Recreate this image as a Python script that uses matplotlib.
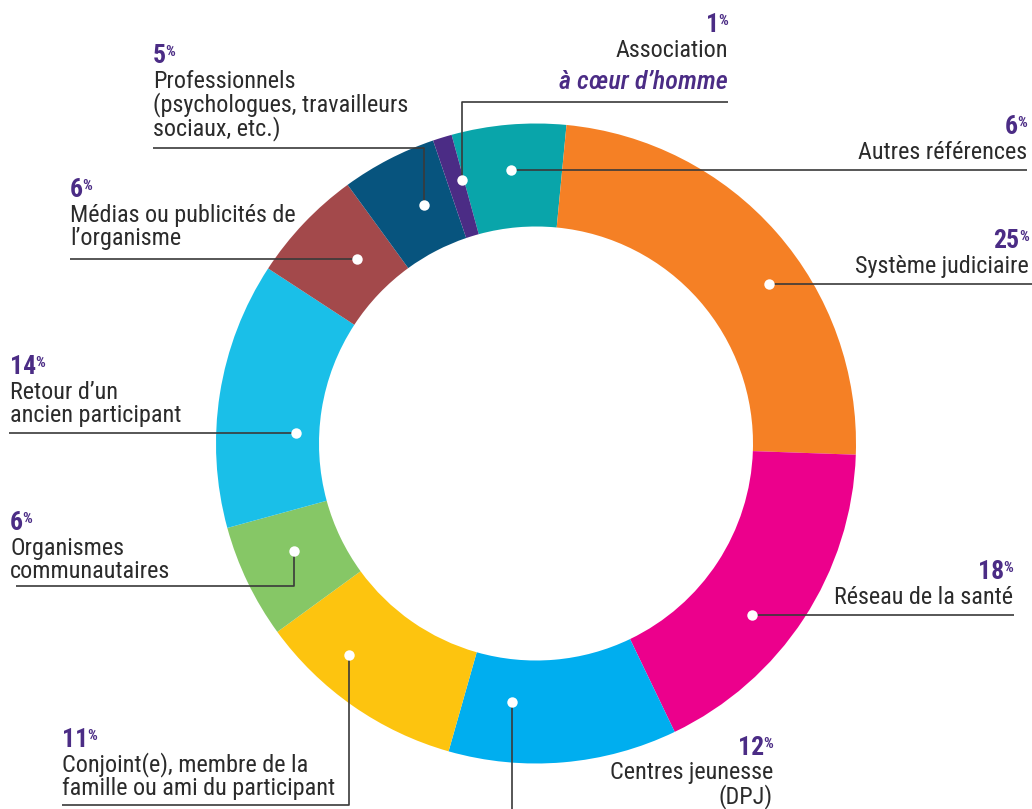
import matplotlib
matplotlib.use('Agg')
import numpy as np
import matplotlib.pyplot as plt
from matplotlib import font_manager
from matplotlib.font_manager import FontProperties

# --- Données (ordre horaire à partir de "Autres références") ---
categories = [
    "Autres références",
    "Système judiciaire",
    "Réseau de la santé",
    "Centres jeunesse (DPJ)",
    "Conjoint(e), membre de la famille ou ami du participant",
    "Organismes communautaires",
    "Retour d'un ancien participant",
    "Médias ou publicités de l'organisme",
    "Professionnels (psychologues, travailleurs sociaux, etc.)",
    "Association à cœur d'homme",
]
pourcentages = [6, 25, 18, 12, 11, 6, 14, 6, 5, 1]
couleurs = ["#09a5aa", "#f58025", "#ec008c", "#00aeef", "#fdc40f",
            "#86c766", "#1abfe8", "#a3494b", "#07547e", "#4b2c85"]
lignes_labels = [
    ["Autres références"],
    ["Système judiciaire"],
    ["Réseau de la santé"],
    ["Centres jeunesse", "(DPJ)"],
    ["Conjoint(e), membre de la", "famille ou ami du participant"],
    ["Organismes", "communautaires"],
    ["Retour d\u2019un", "ancien participant"],
    ["Médias ou publicités de", "l\u2019organisme"],
    ["Professionnels", "(psychologues, travailleurs", "sociaux, etc.)"],
    ["Association", "à cœur d\u2019homme"],
]

# --- Mise en page (pixels, origine en haut à gauche) ---
W, H = 1032, 809
CX, CY = 536, 443.5
R_OUT, R_IN = 320, 217
# position du point sur la tranche: fraction d'angle, rayon
points = [(0.485, 275), (0.579, 282), (0.585, 276), (0.746, 260), (0.673, 282),
          (0.584, 265), (0.367, 240), (0.612, 257), (0.631, 264), (0.887, 274)]
# tracé du trait: ('h', x) / ('v', y) / ('vh', y, x)
traits = [('h', 1027), ('h', 1032), ('h', 1014), ('v', 809), ('vh', 805, 62),
          ('vh', 586, 16), ('h', 9), ('h', 70), ('vh', 148, 153), ('vh', 102, 728)]
# x du texte, alignement, ligne de base du pourcentage
textes = [(1027, 'right', 134), (1029, 'right', 248), (1013, 'right', 579),
          (773, 'right', 755), (62, 'left', 747), (10, 'left', 530),
          (10, 'left', 374), (70, 'left', 197), (153, 'left', 63), (728, 'right', 32)]


def poids(f):
    w = f.weight
    if isinstance(w, str):
        w = font_manager.weight_dict.get(w, 400)
    return w


def etroit(f):
    st = f.stretch
    if isinstance(st, str):
        return 'condensed' in st and 'extra' not in st and 'ultra' not in st
    return 500 > st >= 300


def police_etroite(italique=False, wmin=400, wmax=400, cible=400):
    ordre = ['Liberation Sans Narrow', 'Roboto Condensed', 'Noto Sans',
             'Open Sans', 'DejaVu Sans']
    cands = []
    for f in font_manager.fontManager.ttflist:
        if not (etroit(f) or 'Narrow' in f.name or 'Condensed' in f.name):
            continue
        if (f.style != 'normal') != italique:
            continue
        w = poids(f)
        if not (wmin <= w <= wmax):
            continue
        rang = ordre.index(f.name) if f.name in ordre else len(ordre)
        cands.append((rang, abs(w - cible), f.fname))
    if cands:
        cands.sort()
        return cands[0][2]
    return None


f_reg = police_etroite()
f_ita = police_etroite(italique=True, wmin=500, wmax=700, cible=500) or police_etroite(italique=True)
f_num = police_etroite(wmin=700, wmax=900, cible=900)
f_pc = police_etroite(wmin=600, wmax=800, cible=700) or f_num
fp_txt = FontProperties(fname=f_reg, size=17.4) if f_reg else FontProperties(family='Roboto', size=17)
fp_ita = FontProperties(fname=f_ita, size=18.8) if f_ita else FontProperties(family='Roboto', style='italic', weight='medium', size=17)
fp_num = FontProperties(fname=f_num, size=18.5) if f_num else FontProperties(family='Liberation Sans', weight='bold', size=18)
fp_pc = FontProperties(fname=f_pc, size=11) if f_pc else FontProperties(family='Liberation Sans', weight='bold', size=11)

TXT = '#2b2b2b'
VIOLET = '#4b2c85'
LIGNE = '#3a3a3a'

fig = plt.figure(figsize=(W / 100, H / 100), dpi=100)
ax = fig.add_axes([0, 0, 1, 1])

wedges, _ = ax.pie(pourcentages, colors=couleurs, startangle=90 + 15.3,
                   counterclock=False, radius=R_OUT, center=(CX, H - CY),
                   wedgeprops=dict(width=R_OUT - R_IN, linewidth=0))
ax.set_xlim(0, W)
ax.set_ylim(0, H)
ax.set_aspect('auto')
ax.axis('off')

renderer = fig.canvas.get_renderer()

for i, w in enumerate(wedges):
    t, r = points[i]
    ang = np.deg2rad(w.theta2 - t * (w.theta2 - w.theta1))
    px = CX + r * np.cos(ang)
    py = (H - CY) + r * np.sin(ang)

    tr = traits[i]
    if tr[0] == 'h':
        xs, ys = [px, tr[1]], [py, py]
    elif tr[0] == 'v':
        xs, ys = [px, px], [py, H - tr[1]]
    else:
        xs, ys = [px, px, tr[2]], [py, H - tr[1], H - tr[1]]
    ax.plot(xs, ys, color=LIGNE, lw=1.2, solid_capstyle='butt', zorder=3)
    ax.plot(px, py, 'o', color='white', ms=7.5, mec='none', zorder=4)

    # pourcentage + exposant (haut du % aligné sur le haut des chiffres)
    x, ha, base = textes[i]
    yb = H - base
    y_pc = yb + 7
    nombre = str(pourcentages[i])
    if ha == 'left':
        tn = ax.text(x, yb, nombre, ha='left', va='baseline',
                     fontproperties=fp_num, color=VIOLET)
        bb = tn.get_window_extent(renderer)
        ax.text(bb.x1 - 0.5, y_pc, '%', ha='left', va='baseline',
                fontproperties=fp_pc, color=VIOLET)
    else:
        tp = ax.text(x, y_pc, '%', ha='right', va='baseline',
                     fontproperties=fp_pc, color=VIOLET)
        bb = tp.get_window_extent(renderer)
        ax.text(bb.x0 + 0.5, yb, nombre, ha='right', va='baseline',
                fontproperties=fp_num, color=VIOLET)

    for k, ligne in enumerate(lignes_labels[i]):
        yl = yb - 24.5 - k * 23.8
        if i == 9 and k == 1:
            ax.text(x, H - 89, ligne, ha=ha, va='baseline',
                    fontproperties=fp_ita, color=VIOLET)
        else:
            ax.text(x, yl, ligne, ha=ha, va='baseline',
                    fontproperties=fp_txt, color=TXT)

fig.savefig('out.png', dpi=100, facecolor='white')
